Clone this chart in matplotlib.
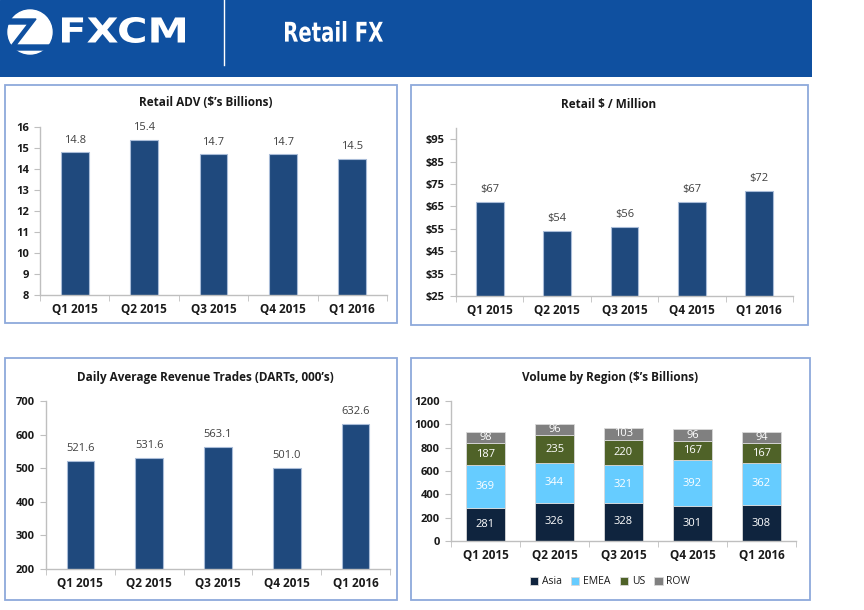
import matplotlib
matplotlib.use("Agg")
import matplotlib.pyplot as plt
from matplotlib.patches import Rectangle, Circle, Polygon, PathPatch
from matplotlib.textpath import TextPath
from matplotlib.font_manager import FontProperties
from matplotlib.transforms import Affine2D
import numpy as np

plt.rcParams['font.family'] = ['Open Sans', 'DejaVu Sans']

quarters = ["Q1 2015", "Q2 2015", "Q3 2015", "Q4 2015", "Q1 2016"]
retail_adv = [14.8, 15.4, 14.7, 14.7, 14.5]
retail_per_million = [67, 54, 56, 67, 72]
darts = [521.6, 531.6, 563.1, 501.0, 632.6]
region_names = ["Asia", "EMEA", "US", "ROW"]
asia = [281, 326, 328, 301, 308]
emea = [369, 344, 321, 392, 362]
us = [187, 235, 220, 167, 167]
row = [98, 96, 103, 96, 94]

W, H = 864, 610
fig = plt.figure(figsize=(W / 100, H / 100), dpi=100)
fig.patch.set_facecolor("white")


def rect(x0, y0, x1, y1):
    return [x0 / W, 1 - y1 / H, (x1 - x0) / W, (y1 - y0) / H]


def fx(x):
    return x / W


def fy(y):
    return 1 - y / H


HEADER_BLUE = "#0F50A0"

# Header band
hdr = fig.add_axes(rect(0, 0, 812, 77))
hdr.set_xlim(0, 812)
hdr.set_ylim(77, 0)
hdr.axis("off")
hdr.add_patch(Rectangle((0, 0), 812, 77, color=HEADER_BLUE))
hdr.plot([224, 224], [0, 65], color="white", lw=1)


def fitted_text(ax, s, x0, x1, y_top, y_bot, family="DejaVu Sans"):
    tp = TextPath((0, 0), s, size=10, prop=FontProperties(family=family, weight="bold"))
    bb = tp.get_extents()
    tr = (Affine2D().translate(-bb.x0, -bb.y0)
          .scale((x1 - x0) / bb.width, -(y_bot - y_top) / bb.height)
          .translate(x0, y_bot))
    ax.add_patch(PathPatch(tr.transform_path(tp), facecolor="white", edgecolor="none"))


# logo symbol
hdr.add_patch(Circle((30, 32), 22, color="white"))
hdr.add_patch(Polygon([[8, 19], [36, 19], [16, 45], [53, 45], [53, 50], [8, 50],
                       [28, 24], [8, 24]], closed=True, color=HEADER_BLUE))
fitted_text(hdr, "FXCM", 62, 185, 17, 43)
fitted_text(hdr, "Retail FX", 285, 383, 21, 42)

# Panel borders
border_color = "#8EA9DB"
for (x0, y0, x1, y1) in [(5, 85, 397, 323), (411, 85, 808, 325),
                         (5, 358, 397, 600), (411, 358, 810, 600)]:
    fig.patches.append(Rectangle((fx(x0), fy(y1)), (x1 - x0) / W, (y1 - y0) / H,
                                 transform=fig.transFigure, fill=False,
                                 edgecolor=border_color, lw=1.3))

bar_color = "#1F497D"
edge_color = "#A9BCD8"
label_color = "#404040"
tick_color = "#1a1a1a"


def style_axis(ax, ylim, yticks, yfmt=None):
    x = np.arange(len(quarters))
    ax.set_xlim(-0.5, len(quarters) - 0.5)
    ax.set_ylim(*ylim)
    ax.set_yticks(yticks)
    if yfmt:
        ax.set_yticklabels([yfmt(v) for v in yticks])
    ax.set_xticks(x)
    ax.set_xticklabels(quarters)
    ax.set_xticks(np.arange(-0.5, len(quarters)), minor=True)
    for s in ["top", "right"]:
        ax.spines[s].set_visible(False)
    for s in ["left", "bottom"]:
        ax.spines[s].set_color("#BFBFBF")
        ax.spines[s].set_linewidth(1)
    ax.tick_params(axis="x", which="major", length=0, pad=6, labelsize=8.5)
    ax.tick_params(axis="x", which="minor", length=4, color="#BFBFBF")
    ax.tick_params(axis="y", length=4, color="#BFBFBF", labelsize=8, pad=4)
    for lab in ax.get_xticklabels() + ax.get_yticklabels():
        lab.set_fontweight("bold")
        lab.set_color(tick_color)
    ax.set_facecolor("none")


def simple_bars(ax, values, width, fmt, offset):
    x = np.arange(len(quarters))
    ax.bar(x, values, width=width, color=bar_color, edgecolor=edge_color, linewidth=0.8, zorder=2)
    for xi, v in zip(x, values):
        ax.text(xi, v + offset, fmt(v), ha="center", va="bottom", fontsize=8, color=label_color)


# Panel 1: Retail ADV
ax1 = fig.add_axes(rect(40, 127, 387, 295))
style_axis(ax1, (8, 16), np.arange(8, 17, 1))
simple_bars(ax1, retail_adv, 0.4, lambda v: f"{v:.1f}", 0.3)
fig.text(fx(206), fy(103), "Retail ADV ($\u2019s Billions)", ha="center", va="center",
         fontsize=8.5, fontweight="bold", color="#1a1a1a")

# Panel 2: Retail $ / Million
ax2 = fig.add_axes(rect(456, 128, 793, 296))
style_axis(ax2, (25, 100), np.arange(25, 100, 10), lambda v: f"${v}")
simple_bars(ax2, retail_per_million, 0.41, lambda v: f"${v}", 3)
fig.text(fx(609), fy(104), "Retail $ / Million", ha="center", va="center",
         fontsize=8.5, fontweight="bold", color="#1a1a1a")

# Panel 3: DARTs
ax3 = fig.add_axes(rect(46, 401, 390, 569))
style_axis(ax3, (200, 700), np.arange(200, 701, 100))
simple_bars(ax3, darts, 0.4, lambda v: f"{v:.1f}", 20)
fig.text(fx(205), fy(378), "Daily Average Revenue Trades (DARTs, 000\u2019s)", ha="center", va="center",
         fontsize=8.5, fontweight="bold", color="#1a1a1a")

# Panel 4: Volume by Region
ax4 = fig.add_axes(rect(451, 401, 796, 541))
style_axis(ax4, (0, 1200), np.arange(0, 1201, 200))
region_colors = ["#0F243E", "#66CCFF", "#4F6228", "#808080"]
series = [asia, emea, us, row]
x = np.arange(len(quarters))
bottom = np.zeros(len(quarters))
for name, vals, col in zip(region_names, series, region_colors):
    vals = np.array(vals, dtype=float)
    ax4.bar(x, vals, bottom=bottom, width=0.57, color=col, edgecolor="#D9D9D9",
            linewidth=0.6, label=name, zorder=2)
    for xi, b, v in zip(x, bottom, vals):
        ax4.text(xi, b + v / 2, f"{int(v)}", ha="center", va="center", fontsize=8,
                 color="white", zorder=3)
    bottom += vals
fig.text(fx(610), fy(378), "Volume by Region ($\u2019s Billions)", ha="center", va="center",
         fontsize=8.5, fontweight="bold", color="#1a1a1a")
leg = ax4.legend(loc="center", bbox_to_anchor=(fx(610), fy(582)), bbox_transform=fig.transFigure,
                 ncol=4, frameon=False, fontsize=7.5, handlelength=0.8, handleheight=0.8,
                 columnspacing=0.9, handletextpad=0.35)
for t in leg.get_texts():
    t.set_color("#1a1a1a")

fig.savefig("out.png", dpi=100)
